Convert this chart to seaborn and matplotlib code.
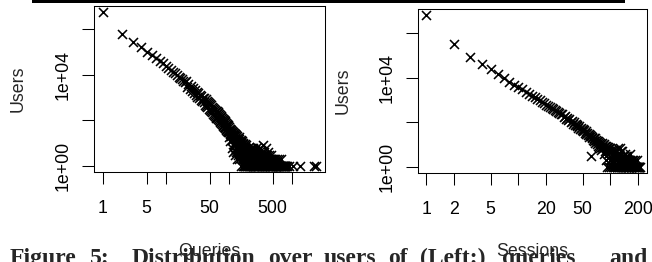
import matplotlib

matplotlib.use("Agg")
import matplotlib.pyplot as plt
import pandas as pd
import seaborn as sns
from matplotlib.patches import Rectangle
from matplotlib.ticker import NullLocator

# Left panel: number of users having issued a given number of queries
QUERY_COUNTS = [
    1, 2, 3, 4, 5, 6, 7, 8, 9, 10,
    11, 12, 13, 14, 15, 16, 17, 18, 19, 20,
    21, 22, 23, 24, 25, 26, 27, 28, 29, 30,
    31, 32, 33, 34, 35, 36, 37, 38, 39, 40,
    41, 42, 43, 44, 45, 46, 47, 48, 49, 50,
    51, 52, 53, 54, 55, 56, 57, 58, 59, 60,
    61, 62, 63, 64, 65, 66, 67, 68, 69, 70,
    71, 72, 73, 74, 75, 76, 77, 78, 79, 80,
    81, 82, 83, 84, 85, 86, 87, 88, 89, 90,
    91, 92, 93, 94, 95, 96, 97, 98, 99, 100,
    101, 102, 103, 104, 105, 106, 107, 108, 109, 110,
    111, 112, 113, 114, 115, 116, 117, 118, 119, 120,
    121, 122, 123, 124, 125, 126, 127, 128, 129, 130,
    131, 132, 133, 134, 135, 136, 137, 138, 139, 140,
    141, 142, 143, 144, 145, 146, 147, 148, 149, 150,
    151, 152, 153, 154, 155, 156, 157, 158, 159, 160,
    161, 162, 163, 164, 165, 166, 167, 168, 169, 170,
    171, 172, 173, 174, 175, 176, 177, 178, 179, 180,
    181, 182, 183, 184, 185, 186, 187, 188, 189, 190,
    191, 192, 193, 194, 195, 196, 197, 198, 199, 200,
    202, 204, 206, 208, 210, 212, 214, 216, 218, 220,
    222, 224, 226, 228, 230, 232, 234, 236, 238, 240,
    242, 244, 246, 248, 250, 252, 254, 256, 258, 260,
    262, 264, 266, 268, 270, 272, 274, 276, 278, 280,
    282, 284, 286, 288, 290, 292, 294, 296, 298, 300,
    302, 306, 310, 314, 318, 322, 326, 330, 334, 338,
    342, 346, 350, 354, 358, 362, 366, 370, 374, 378,
    382, 386, 390, 394, 398, 402, 406, 410, 414, 418,
    422, 426, 430, 434, 438, 442, 446, 450, 454, 458,
    462, 466, 470, 474, 478, 482, 486, 490, 494, 498,
    510, 520, 530, 540, 550, 560, 570, 580, 590, 600,
    610, 620, 630, 640, 650, 660, 670, 680, 690, 700,
    710, 720, 730, 740, 750, 760, 770, 780, 790, 800,
    830, 900, 1070, 1360, 2300, 2450,
]
QUERY_USERS = [
    5400000, 630000, 282000, 170000, 102000, 71000, 52500, 40000, 31500, 25000,
    20400, 16600, 13800, 11500, 9800, 8300, 7200, 6300, 5500, 4800,
    5100, 3040, 4060, 2400, 3240, 1960, 2660, 1600, 2180, 1330,
    1810, 1100, 1520, 940, 1300, 800, 1120, 700, 970, 610,
    985, 483, 878, 420, 743, 371, 668, 322, 580, 284,
    513, 252, 459, 223, 405, 200, 365, 181, 331, 162,
    300, 148, 270, 132, 246, 123, 224, 111, 203, 102,
    186, 91, 170, 85, 155, 76, 140, 69, 127, 63,
    117, 59, 108, 53, 99, 50, 90, 45, 85, 43,
    78, 39, 72, 36, 66, 33, 62, 32, 59, 30,
    35, 52, 18, 26, 40, 44, 12, 20, 30, 38,
    24, 14, 6, 34, 28, 22, 16, 30, 4, 9,
    20, 28, 8, 16, 26, 25, 5, 3, 14, 22,
    19, 12, 4, 2, 11, 20, 15, 10, 3, 17,
    12, 8, 5, 18, 10, 6, 2, 15, 13, 9,
    4, 13, 8, 5, 1, 14, 10, 7, 3, 11,
    7, 4, 2, 12, 9, 6, 1, 9, 6, 3,
    4, 10, 1, 2, 7, 8, 2, 5, 3, 7,
    5, 1, 1, 9, 6, 3, 2, 6, 4, 2,
    1, 8, 3, 1, 2, 5, 5, 3, 1, 6,
    1, 4, 2, 7, 1, 3, 5, 1, 2, 4,
    1, 6, 2, 1, 3, 5, 1, 2, 4, 1,
    3, 1, 6, 2, 1, 3, 1, 4, 2, 1,
    2, 5, 1, 3, 1, 2, 4, 1, 2, 1,
    3, 1, 7, 2, 1, 3, 1, 2, 5, 1,
    2, 1, 6, 1, 2, 1, 3, 5, 1, 2,
    1, 2, 8, 1, 3, 1, 2, 4, 1, 2,
    1, 3, 6, 1, 2, 1, 3, 1, 2, 1,
    4, 1, 2, 1, 3, 1, 2, 1, 1, 2,
    1, 3, 1, 1, 2, 1, 1, 2, 1, 1,
    1, 2, 1, 1, 2, 1, 1, 1, 2, 1,
    1, 1, 2, 1, 1, 1, 1, 2, 1, 1,
    1, 1, 1, 1, 1, 1, 1, 1, 1, 1,
    1, 1, 1, 1, 1, 1,
]

# Right panel: number of users having a given number of sessions
SESSION_COUNTS = [
    1, 2, 3, 4, 5, 6, 7, 8, 9, 10,
    11, 12, 13, 14, 15, 16, 17, 18, 19, 20,
    21, 22, 23, 24, 25, 26, 27, 28, 29, 30,
    31, 32, 33, 34, 35, 36, 37, 38, 39, 40,
    41, 42, 43, 44, 45, 46, 47, 48, 49, 50,
    51, 52, 53, 54, 55, 56, 57, 58, 59, 60,
    61, 62, 63, 64, 65, 66, 67, 68, 69, 70,
    71, 72, 73, 74, 75, 76, 77, 78, 79, 80,
    81, 82, 83, 84, 85, 86, 87, 88, 89, 90,
    91, 92, 93, 94, 95, 96, 97, 98, 99, 100,
    101, 102, 103, 104, 105, 106, 107, 108, 109, 110,
    111, 112, 113, 114, 115, 116, 117, 118, 119, 120,
    121, 122, 123, 124, 125, 126, 127, 128, 129, 130,
    131, 132, 133, 134, 135, 136, 137, 138, 139, 140,
    141, 142, 143, 144, 145, 146, 147, 148, 149, 150,
    151, 152, 153, 154, 155, 156, 157, 158, 159, 160,
    161, 163, 165, 167, 169, 171, 173, 175, 177, 179,
    181, 183, 185, 187, 189, 191, 193, 195, 197, 199,
    201, 203, 205, 207, 210,
]
SESSION_USERS = [
    6600000, 316000, 89000, 41700, 24000, 14500, 9500, 6800, 5000, 3800,
    3000, 2400, 1950, 1600, 1340, 1120, 960, 830, 720, 630,
    550, 490, 430, 385, 350, 310, 280, 255, 230, 230,
    175, 190, 148, 160, 124, 138, 104, 116, 88, 100,
    77, 87, 66, 76, 58, 67, 50, 59, 44, 52,
    41, 45, 35, 40, 31, 35, 27, 31, 23, 28,
    3, 25, 19, 23, 16, 21, 14, 19, 12, 17,
    11, 15, 9, 14, 8, 13, 7, 12, 6, 11,
    12, 8, 7, 10, 11, 4, 5, 9, 9, 2,
    1, 6, 8, 8, 4, 1, 7, 5, 2, 7,
    6, 2, 1, 4, 5, 1, 2, 6, 4, 3,
    1, 1, 6, 5, 2, 2, 3, 1, 1, 4,
    7, 1, 2, 3, 1, 2, 7, 1, 3, 5,
    1, 2, 2, 1, 5, 3, 1, 1, 3, 2,
    1, 1, 2, 2, 4, 1, 1, 3, 2, 1,
    1, 2, 3, 1, 1, 1, 2, 2, 1, 1,
    1, 2, 4, 1, 1, 2, 1, 1, 2, 1,
    1, 1, 2, 1, 1, 1, 2, 1, 1, 1,
    1, 1, 1, 1, 1,
]

QUERY_TICKS = [1, 5, 10, 50, 100, 500, 1000]
QUERY_TICK_LABELS = ["1", "5", "", "50", "", "500", ""]
SESSION_TICKS = [1, 2, 5, 10, 20, 50, 100, 200]
SESSION_TICK_LABELS = ["1", "2", "5", "", "20", "50", "", "200"]
USER_TICKS = [1, 1e2, 1e4, 1e6]
USER_TICK_LABELS = ["1e+00", "", "1e+04", ""]

CAPTION_WORDS = ["Figure", "5:", "Distribution", "over", "users", "of",
                 "(Left:)", "queries", "and"]
CAPTION_X = [10, 90, 132, 268, 324, 388, 420, 502, 609]

W, H = 652, 262
LABEL_SIZE = 12.8


def fx(px):
    return px / W


def fy(px):
    # pixel rows are counted from the top of the image
    return 1 - px / H


def draw_panel(ax, counts, users, ticks, tick_labels, xlim, ylim):
    df = pd.DataFrame({"count": counts, "users": users})
    sns.scatterplot(data=df, x="count", y="users", marker="x", color="black",
                    s=42, linewidth=1.15, ax=ax, legend=False)
    ax.set_xscale("log")
    ax.set_yscale("log")
    ax.set_xlim(*xlim)
    ax.set_ylim(*ylim)
    ax.set_xticks(ticks, tick_labels)
    ax.set_yticks(USER_TICKS, USER_TICK_LABELS, rotation=90, va="center")
    ax.xaxis.set_minor_locator(NullLocator())
    ax.yaxis.set_minor_locator(NullLocator())
    ax.set_xlabel("")
    ax.set_ylabel("")
    ax.tick_params(axis="both", direction="out", length=8.4, width=0.75,
                   color="black", labelsize=LABEL_SIZE, labelcolor="black")
    ax.tick_params(axis="x", pad=12)
    ax.tick_params(axis="y", pad=7.7)
    for spine in ax.spines.values():
        spine.set_visible(True)
        spine.set_linewidth(0.75)
        spine.set_color("black")


def main():
    sns.set_theme(style="ticks")
    plt.rcParams["font.family"] = ["Liberation Sans", "DejaVu Sans"]

    fig = plt.figure(figsize=(W / 100, H / 100), dpi=100)
    fig.patch.set_facecolor("white")

    ax_left = fig.add_axes([fx(94), fy(172), fx(231), 166.3 / H])
    ax_right = fig.add_axes([fx(417.7), fy(173), fx(229.3), 163.7 / H])

    draw_panel(ax_left, QUERY_COUNTS, QUERY_USERS, QUERY_TICKS,
               QUERY_TICK_LABELS, (0.728, 3390), (0.546, 1.07e7))
    draw_panel(ax_right, SESSION_COUNTS, SESSION_USERS, SESSION_TICKS,
               SESSION_TICK_LABELS, (0.806, 250.6), (0.538, 1.18e7))

    # axis titles sit where R put them, partly under the caption
    fig.text(fx(18), fy(89), "Users", rotation=90, ha="center", va="center",
             fontsize=LABEL_SIZE)
    fig.text(fx(343.5), fy(91), "Users", rotation=90, ha="center",
             va="center", fontsize=LABEL_SIZE)
    fig.text(fx(209.5), fy(256), "Queries", ha="center", va="baseline",
             fontsize=LABEL_SIZE)
    fig.text(fx(532.3), fy(256), "Sessions", ha="center", va="baseline",
             fontsize=LABEL_SIZE)

    # caption line of the paper, cut by the bottom edge
    for word, x in zip(CAPTION_WORDS, CAPTION_X):
        fig.text(fx(x), fy(264), word, family="Liberation Serif",
                 fontweight="bold", fontsize=17, va="baseline")

    # rule at the top of the page crop
    fig.add_artist(Rectangle((fx(32), fy(2.7)), fx(625 - 32), 2.7 / H,
                             transform=fig.transFigure, color="black", lw=0))

    fig.savefig("out.png", dpi=100)
    plt.close(fig)


if __name__ == "__main__":
    main()
